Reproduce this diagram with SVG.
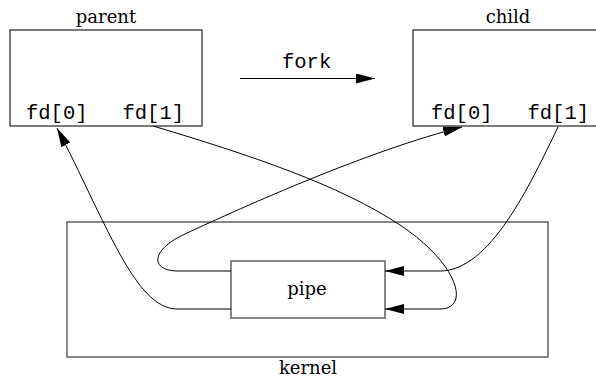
<svg xmlns="http://www.w3.org/2000/svg" width="596" height="378" viewBox="0 0 596 378">
<style>
.box{fill:none;stroke:#222;stroke-width:1.2}
.kbox{fill:none;stroke:#555;stroke-width:1.4}
.lbl{font-family:"DejaVu Serif","Liberation Serif",serif;font-size:18px;fill:#000;text-anchor:middle}
.mono{font-family:"Liberation Mono","DejaVu Sans Mono",monospace;font-size:20.5px;fill:#000}
.conn{fill:none;stroke:#000;stroke-width:1}
</style>
<defs>
<marker id="ah" viewBox="0 0 19 10" refX="19" refY="5" markerWidth="19" markerHeight="10" markerUnits="userSpaceOnUse" orient="auto">
<path d="M0,0 L19,5 L0,10 z" fill="#000"/>
</marker>
</defs>
<g id="parent">
<rect class="box" x="10" y="30" width="192" height="96"/>
<text class="lbl" x="106" y="23">parent</text>
<text class="mono" x="26" y="118.5">fd[0]</text>
<text class="mono" x="122.5" y="118.5">fd[1]</text>
</g>
<g id="child">
<rect class="box" x="413" y="30" width="192" height="96"/>
<text class="lbl" x="508" y="23">child</text>
<text class="mono" x="431" y="118.5">fd[0]</text>
<text class="mono" x="527.5" y="118.5">fd[1]</text>
</g>
<g id="kernel">
<rect class="kbox" x="67" y="222" width="481" height="135"/>
<text class="lbl" x="308" y="374">kernel</text>
</g>
<g id="pipe">
<rect class="kbox" x="231" y="261" width="154" height="57"/>
<text class="lbl" x="307" y="295">pipe</text>
</g>
<g id="fork">
<text class="mono" x="282" y="68">fork</text>
</g>
<g id="connectors">
<path class="conn" d="M240,78.5 L375,78.5" marker-end="url(#ah)"/>
<path class="conn" d="M231,309 L177,309 C135,309 105,220 57,128" marker-end="url(#ah)"/>
<path class="conn" d="M231,271 L178,271 C150,271 150,250 185,234 C245,206 370,150 462,127" marker-end="url(#ah)"/>
<path class="conn" d="M153,126 C250,155 340,185 400,225 C460,265 470,309 440,309 L385,309" marker-end="url(#ah)"/>
<path class="conn" d="M558,127 C530,185 490,271 440,271 L385,271" marker-end="url(#ah)"/>
</g>
</svg>
